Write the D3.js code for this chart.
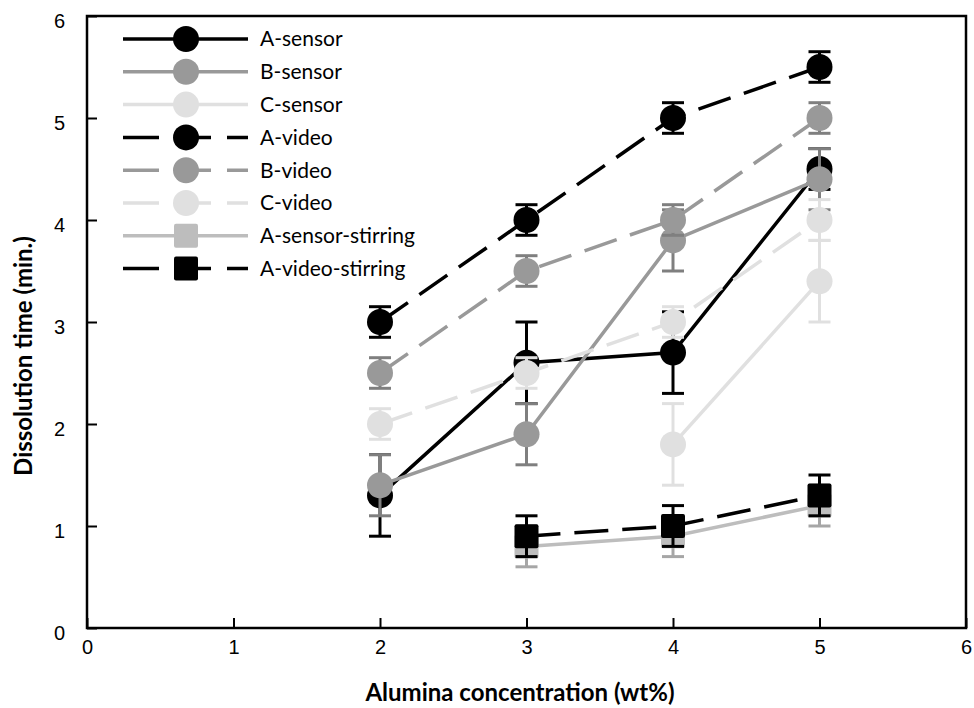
<!DOCTYPE html>
<html>
  <head>
    <meta charset="utf-8">
    <title>Dissolution time</title>
    <script src="https://cdn.jsdelivr.net/npm/d3@7"></script>
    <style>
      body { margin: 0; background: #fff; }
      svg { font-family: Lato, "Open Sans", sans-serif; }
      .tick text { font-size: 20px; fill: #000; }
      .title { font-size: 24px; font-weight: bold; }
      .legend text { font-size: 21px; }
    </style>
  </head>
  <body>
    <svg id="chart" width="974" height="708"></svg>
    <script>
      // data
      xTicks = [0, 1, 2, 3, 4, 5, 6];
      yTicks = [0, 1, 2, 3, 4, 5, 6];

      seriesNames = ["A-sensor", "B-sensor", "C-sensor", "A-video", "B-video", "C-video", "A-sensor-stirring", "A-video-stirring"];
      seriesX = [
        [2, 3, 4, 5],
        [2, 3, 4, 5],
        [4, 5],
        [2, 3, 4, 5],
        [2, 3, 4, 5],
        [2, 3, 4, 5],
        [3, 4, 5],
        [3, 4, 5]
      ];
      seriesY = [
        [1.3, 2.6, 2.7, 4.5],
        [1.4, 1.9, 3.8, 4.4],
        [1.8, 3.4],
        [3.0, 4.0, 5.0, 5.5],
        [2.5, 3.5, 4.0, 5.0],
        [2.0, 2.5, 3.0, 4.0],
        [0.8, 0.9, 1.2],
        [0.9, 1.0, 1.3]
      ];
      seriesErr = [
        [0.4, 0.4, 0.4, 0.2],
        [0.3, 0.3, 0.3, 0.3],
        [0.4, 0.4],
        [0.15, 0.15, 0.15, 0.15],
        [0.15, 0.15, 0.15, 0.15],
        [0.15, 0.15, 0.15, 0.2],
        [0.2, 0.2, 0.2],
        [0.2, 0.2, 0.2]
      ];

      // styles
      colours = ["#000000", "#999999", "#e0e0e0", "#000000", "#999999", "#e0e0e0", "#bdbdbd", "#000000"];
      errColours = ["#000000", "#7f7f7f", "#e0e0e0", "#000000", "#7f7f7f", "#e0e0e0", "#a6a6a6", "#000000"];
      dashed = [false, false, false, true, true, true, false, true];
      squares = [false, false, false, false, false, false, true, true];

      svg = d3.select("#chart");
      margin = {top: 16, right: 8, bottom: 80, left: 87};
      width = 974;
      height = 708;

      x = d3.scaleLinear().domain([0, 6]).range([margin.left, width - margin.right]);
      y = d3.scaleLinear().domain([0, 6]).range([height - margin.bottom, margin.top]);

      // axes
      xAxis = svg.append("g")
        .attr("transform", "translate(0," + y(0) + ")")
        .call(d3.axisBottom(x).tickValues(xTicks).tickSize(-10).tickPadding(12).tickFormat(d3.format("d")));
      yAxis = svg.append("g")
        .attr("transform", "translate(" + x(0) + ",0)")
        .call(d3.axisLeft(y).tickValues(yTicks).tickSize(-10).tickPadding(22).tickFormat(d3.format("d")));
      yAxis.selectAll(".tick text").attr("dy", "0.55em");
      svg.selectAll(".domain").remove();
      svg.selectAll(".tick line").attr("stroke", "#000").attr("stroke-width", 2);

      svg.append("rect")
        .attr("x", x(0))
        .attr("y", y(6))
        .attr("width", x(6) - x(0))
        .attr("height", y(0) - y(6))
        .attr("fill", "none")
        .attr("stroke", "#000")
        .attr("stroke-width", 2.5);

      svg.append("text")
        .attr("class", "title")
        .attr("x", 520)
        .attr("y", 701)
        .attr("text-anchor", "middle")
        .text("Alumina concentration (wt%)");
      svg.append("text")
        .attr("class", "title")
        .attr("transform", "translate(32,356) rotate(-90)")
        .attr("text-anchor", "middle")
        .text("Dissolution time (min.)");

      // series
      line = d3.line()
        .x(function(d) { return x(d[0]); })
        .y(function(d) { return y(d[1]); });

      function drawMarker(g, cx, cy, i) {
        if (squares[i]) {
          g.append("rect")
            .attr("x", cx - 12)
            .attr("y", cy - 12)
            .attr("width", 24)
            .attr("height", 24)
            .attr("rx", 2)
            .attr("fill", colours[i]);
        } else {
          g.append("circle")
            .attr("cx", cx)
            .attr("cy", cy)
            .attr("r", 13)
            .attr("fill", colours[i]);
        }
      }

      seriesNames.forEach(function(name, i) {
        pts = seriesX[i].map(function(v, j) { return [v, seriesY[i][j], seriesErr[i][j]]; });
        g = svg.append("g");
        g.append("path")
          .datum(pts)
          .attr("d", line)
          .attr("fill", "none")
          .attr("stroke", colours[i])
          .attr("stroke-width", 3.5)
          .attr("stroke-dasharray", dashed[i] ? "34,14" : null);
        pts.forEach(function(p) {
          cx = x(p[0]);
          g.append("line")
            .attr("x1", cx).attr("x2", cx)
            .attr("y1", y(p[1] - p[2])).attr("y2", y(p[1] + p[2]))
            .attr("stroke", errColours[i]).attr("stroke-width", 3);
          [p[1] - p[2], p[1] + p[2]].forEach(function(v) {
            g.append("line")
              .attr("x1", cx - 11).attr("x2", cx + 11)
              .attr("y1", y(v)).attr("y2", y(v))
              .attr("stroke", errColours[i]).attr("stroke-width", 3);
          });
        });
        pts.forEach(function(p) {
          drawMarker(g, x(p[0]), y(p[1]), i);
        });
      });

      // legend
      legend = svg.append("g").attr("class", "legend");
      seriesNames.forEach(function(name, i) {
        ly = 39 + i * 32.8;
        row = legend.append("g");
        row.append("line")
          .attr("x1", 123).attr("x2", 248)
          .attr("y1", ly).attr("y2", ly)
          .attr("stroke", colours[i])
          .attr("stroke-width", 3.5)
          .attr("stroke-dasharray", dashed[i] ? "36,16" : null);
        drawMarker(row, 186, ly, i);
        row.append("text")
          .attr("x", 260)
          .attr("y", ly)
          .attr("dy", "0.35em")
          .text(name);
      });
    </script>
  </body>
</html>
